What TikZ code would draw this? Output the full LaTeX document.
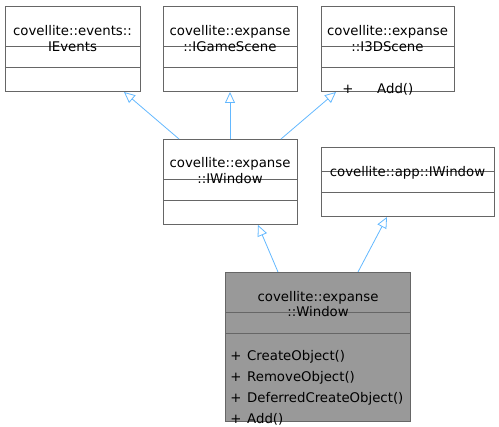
\documentclass[tikz,border=0pt]{standalone}
\usepackage{fontspec}
\setmainfont{DejaVu Sans}
\usetikzlibrary{arrows.meta,calc}
\definecolor{edgec}{HTML}{63B8FF}
\definecolor{bordc}{HTML}{666666}
\definecolor{fillc}{HTML}{999999}
\begin{document}
\begin{tikzpicture}[x=1pt,y=-1pt,
  box/.style={draw=bordc,line width=0.9pt,anchor=north west,inner sep=0pt,outer sep=0pt},
  sep/.style={draw=bordc,line width=0.9pt},
  txt/.style={anchor=base,inner sep=0pt,font=\fontsize{13.3}{16}\selectfont},
  ltxt/.style={anchor=base west,inner sep=0pt,font=\fontsize{13.3}{16}\selectfont},
  inh/.style={draw=edgec,line width=0.8pt,-{Triangle[open,length=11pt,width=10pt]}}]
\useasboundingbox (0,0) rectangle (499,427);
% boxes
\node[box,minimum width=135pt,minimum height=85pt] (ev) at (5,6) {};
\node[box,minimum width=134pt,minimum height=85pt] (gs) at (163,6) {};
\node[box,minimum width=133pt,minimum height=85pt] (s3) at (321,6) {};
\node[box,minimum width=134pt,minimum height=85pt] (iw) at (163,139) {};
\node[box,minimum width=173pt,minimum height=69pt] (aw) at (321,147) {};
\node[box,fill=fillc,minimum width=185pt,minimum height=149pt] (wn) at (225,272) {};
% separators
\foreach \b in {ev,gs,s3}{
  \draw[sep] ($(\b.north west)+(0,40)$) -- ($(\b.north east)+(0,40)$);
  \draw[sep] ($(\b.north west)+(0,61)$) -- ($(\b.north east)+(0,61)$);
}
\draw[sep] ($(iw.north west)+(0,40)$) -- ($(iw.north east)+(0,40)$);
\draw[sep] ($(iw.north west)+(0,61)$) -- ($(iw.north east)+(0,61)$);
\draw[sep] ($(aw.north west)+(0,24)$) -- ($(aw.north east)+(0,24)$);
\draw[sep] ($(aw.north west)+(0,45)$) -- ($(aw.north east)+(0,45)$);
\draw[sep] ($(wn.north west)+(0,40)$) -- ($(wn.north east)+(0,40)$);
\draw[sep] ($(wn.north west)+(0,61)$) -- ($(wn.north east)+(0,61)$);
% texts
\node[txt] (ev1) at (72.5,36) {covellite::events::};
\node[txt] (ev2) at (72.5,52) {IEvents};
\node[txt] (gs1) at (230,36) {covellite::expanse};
\node[txt] (gs2) at (230,52) {::IGameScene};
\node[txt] (s31) at (387.5,36) {covellite::expanse};
\node[txt] (s32) at (387.5,52) {::I3DScene};
\node[txt] (s3p) at (348,94) {+};
\node[ltxt] (s3m) at (377,94) {Add()};
\node[txt] (iw1) at (230,168) {covellite::expanse};
\node[txt] (iw2) at (230,184) {::IWindow};
\node[txt] (aw1) at (407.5,177) {covellite::app::IWindow};
\node[txt] (wn1) at (318,302) {covellite::expanse};
\node[txt] (wn2) at (318,317) {::Window};
\foreach \m/\yy in {CreateObject()/361,RemoveObject()/382,DeferredCreateObject()/403,Add()/424}{
  \node[txt] at (236,\yy) {+};
  \node[ltxt] at (247,\yy) {\m};
}
% inheritance arrows
\draw[inh] ($(iw.north west)+(16,0)$) -- ($(ev.south east)+(-16,1)$);
\draw[inh] (iw.north) -- ($(gs.south)+(0,1)$);
\draw[inh] ($(iw.north east)+(-16,0)$) -- ($(s3.south west)+(15,1)$);
\draw[inh] ($(wn.north west)+(53,0)$) -- ($(iw.south)+(28,1)$);
\draw[inh] ($(wn.north west)+(133,0)$) -- ($(aw.south)+(-20.5,1)$);
\end{tikzpicture}
\end{document}
